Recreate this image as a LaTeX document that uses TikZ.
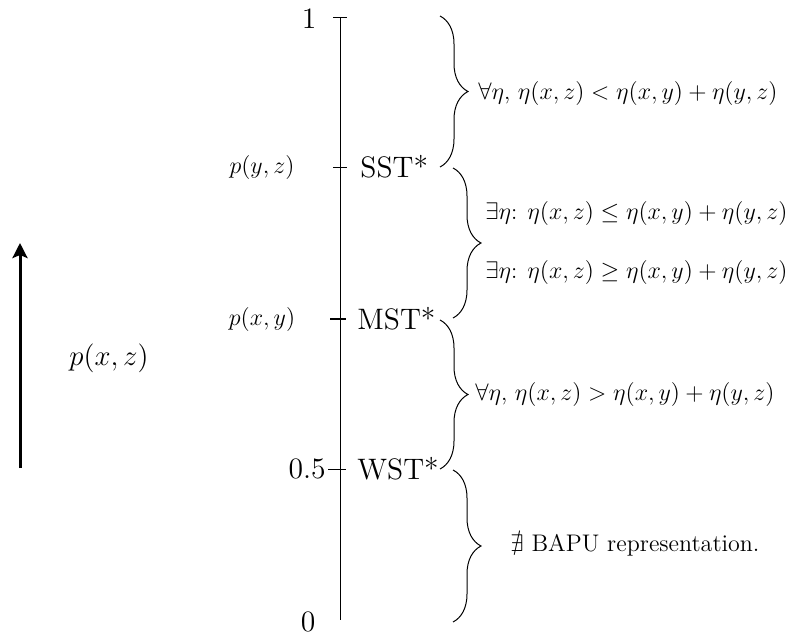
\documentclass[tikz,border=0pt]{standalone}
\usepackage{amssymb}
\usetikzlibrary{decorations.pathreplacing,arrows.meta}
\begin{document}
\begin{tikzpicture}[x=0.5pt,y=-0.5pt,
  lbl/.style={inner sep=0pt},
  big/.style={font=\fontsize{14.8}{17}\selectfont},
  small/.style={font=\fontsize{11.8}{14}\selectfont},
  tick/.style={line width=0.5pt},
  axisline/.style={line width=0.5pt},
  bracedeco/.style={decorate,decoration={brace,amplitude=14pt},line width=0.5pt},
  cond/.style={inner sep=0pt,anchor=west,font=\fontsize{11.5}{14}\selectfont}]
\useasboundingbox (0,0) rectangle (787,637);
% axis
\coordinate (atop) at (340,17);
\coordinate (abot) at (340,620);
\draw[axisline] (atop) -- (abot);
% ticks
\coordinate (t1a) at (333,17);  \coordinate (t1b) at (347,17);
\coordinate (tsa) at (333,167); \coordinate (tsb) at (347,167);
\coordinate (tma) at (330,319); \coordinate (tmb) at (346,319);
\coordinate (twa) at (328,469); \coordinate (twb) at (346,469);
\draw[tick] (t1a) -- (t1b);
\draw[tick] (tsa) -- (tsb);
\draw[tick,line width=0.9pt] (tma) -- (tmb);
\draw[tick] (twa) -- (twb);
% axis labels
\node[lbl,big] (one) at (309,19) {1};
\node[lbl,big] (zero) at (308,622) {0};
\node[lbl,big,anchor=east] (half) at (326,469) {0.5};
\node[lbl,small] (pyz) at (262,167) {$p(y,z)$};
\node[lbl,small] (pxy) at (262,319) {$p(x,y)$};
\node[lbl,big,anchor=west] (sst) at (360,167) {SST*};
\node[lbl,big,anchor=west] (mst) at (357,319) {MST*};
\node[lbl,big,anchor=west] (wst) at (357,469) {WST*};
% braces
\coordinate (b1s) at (440,16);  \coordinate (b1e) at (440,167);
\coordinate (b2s) at (453,168); \coordinate (b2e) at (453,318);
\coordinate (b3s) at (440,320); \coordinate (b3e) at (440,469);
\coordinate (b4s) at (453,470); \coordinate (b4e) at (453,622);
\draw[bracedeco] (b1s) -- (b1e);
\draw[bracedeco] (b2s) -- (b2e);
\draw[bracedeco] (b3s) -- (b3e);
\draw[bracedeco] (b4s) -- (b4e);
% conditions
\node[cond] (c1) at (478,93) {$\forall\eta$, $\eta(x,z) < \eta(x,y) + \eta(y,z)$};
\node[cond] (c2) at (485,213) {$\exists\eta$: $\eta(x,z) \leq \eta(x,y) + \eta(y,z)$};
\node[cond] (c3) at (485,272) {$\exists\eta$: $\eta(x,z) \geq \eta(x,y) + \eta(y,z)$};
\node[cond] (c4) at (475,394) {$\forall\eta$, $\eta(x,z) > \eta(x,y) + \eta(y,z)$};
\node[cond,font=\fontsize{12}{14}\selectfont] (c5) at (510,545) {$\nexists$ BAPU representation.};
% left arrow
\coordinate (arb) at (20,468);
\coordinate (art) at (20,243);
\draw[line width=1.5pt,-{Stealth[length=7.5pt,width=7.5pt,inset=1.5pt]}] (arb) -- (art);
\node[lbl,font=\Large] (pxz) at (109,358) {$p(x,z)$};
\end{tikzpicture}
\end{document}
